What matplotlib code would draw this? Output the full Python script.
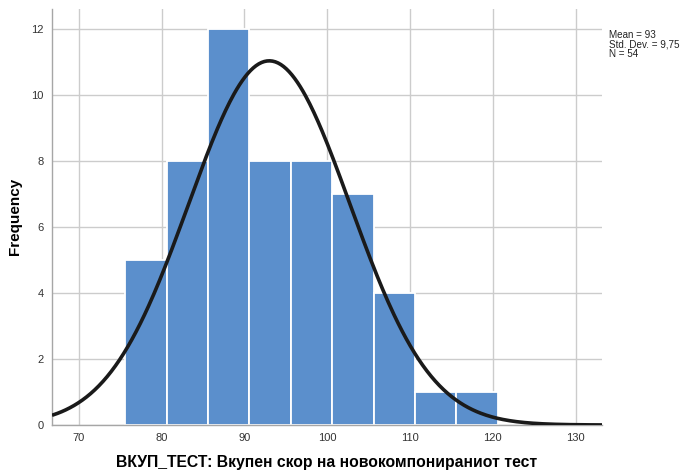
import numpy as np
import matplotlib
matplotlib.use("Agg")
import matplotlib.pyplot as plt

plt.rcParams['font.family'] = ['Liberation Sans', 'DejaVu Sans']

# Data
bin_edges = [75.6, 80.6, 85.6, 90.6, 95.6, 100.6, 105.6, 110.6, 115.6, 120.6]
counts = [5, 8, 12, 8, 8, 7, 4, 1, 1]
mean = 93.0
std_dev = 9.75
n = 54
x_ticks = [70, 80, 90, 100, 110, 120, 130]
y_ticks = [0, 2, 4, 6, 8, 10, 12]
x_label = "ВКУП_ТЕСТ: Вкупен скор на новокомпонираниот тест"
y_label = "Frequency"
stats_text = "Mean = 93\nStd. Dev. = 9,75\nN = 54"

fig = plt.figure(figsize=(6.83, 4.74), dpi=100)
ax = fig.add_axes([52/683, 1 - 425/474, (602-52)/683, (425-9)/474])

lefts = bin_edges[:-1]
widths = [b - a for a, b in zip(bin_edges[:-1], bin_edges[1:])]
ax.bar(lefts, counts, width=widths, align='edge', color='#5B8FCC',
       edgecolor='white', linewidth=1.3, zorder=2)

xmin, xmax = 66.75, 133.2
xs = np.linspace(xmin, xmax, 400)
bw = widths[0]
ys = n * bw / (std_dev * np.sqrt(2 * np.pi)) * np.exp(-0.5 * ((xs - mean) / std_dev) ** 2)
ax.plot(xs, ys, color='#1a1a1a', linewidth=2.6, zorder=3, solid_capstyle='butt')

ax.set_xlim(xmin, xmax)
ax.set_ylim(0, 12.62)
ax.set_xticks(x_ticks)
ax.set_yticks(y_ticks)
ax.grid(True, color='#CCCCCC', linewidth=1.0, zorder=0)
ax.set_axisbelow(True)
for s in ['top', 'right']:
    ax.spines[s].set_visible(False)
for s in ['left', 'bottom']:
    ax.spines[s].set_color('#A6A6A6')
    ax.spines[s].set_linewidth(1.0)
ax.tick_params(axis='x', length=0, labelsize=8, labelcolor='#333333', pad=6)
ax.tick_params(axis='y', length=0, labelsize=8, labelcolor='#333333', pad=6)

fig.text(327/683, 1 - 463/474, x_label, fontsize=11.3, fontweight='bold',
         ha='center', va='center')
fig.text(15/683, 1 - 216/474, y_label, fontsize=11, fontweight='bold',
         ha='center', va='center', rotation=90)

fig.text(609/683, 1 - 30/474, stats_text, fontsize=7.1, va='top', ha='left',
         color='#222222', linespacing=0.95)

fig.savefig('out.png', dpi=100)
